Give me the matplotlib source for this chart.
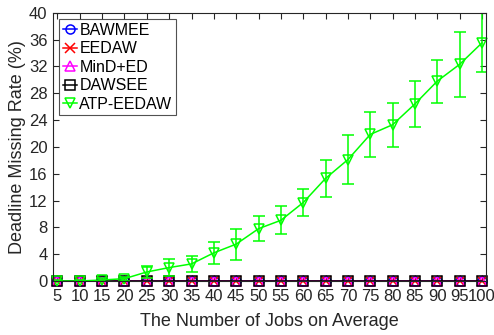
import matplotlib
matplotlib.use("Agg")
import matplotlib.pyplot as plt
from matplotlib.lines import Line2D
import numpy as np

plt.rcParams['font.family'] = ['Liberation Sans', 'DejaVu Sans']

jobs = [5, 10, 15, 20, 25, 30, 35, 40, 45, 50, 55, 60, 65, 70, 75, 80, 85, 90, 95, 100]

bawmee = [0] * 20
eedaw = [0] * 20
mind_ed = [0] * 20
dawsee = [0] * 20

atp_eedaw = [0.0, 0.0, 0.15, 0.35, 1.35, 2.0, 2.55, 4.2, 5.5, 7.8, 9.05, 11.7, 15.3, 18.1,
             21.85, 23.3, 26.4, 29.8, 32.3, 35.5]
atp_err = [0.15, 0.15, 0.25, 0.3, 0.85, 1.25, 1.25, 1.65, 2.3, 1.9, 2.1, 1.95, 2.75, 3.65,
           3.35, 3.3, 3.4, 3.2, 4.8, 4.4]

series = [
    ("BAWMEE", bawmee, None, "#0000ff", "o"),
    ("EEDAW", eedaw, None, "#ff0000", "x"),
    ("MinD+ED", mind_ed, None, "#ff00ff", "^"),
    ("DAWSEE", dawsee, None, "#000000", "s"),
    ("ATP-EEDAW", atp_eedaw, atp_err, "#00ff00", "v"),
]

fig = plt.figure(figsize=(4.94, 3.35), dpi=100)
ax = fig.add_axes([53 / 494, (335 - 281) / 335, (486 - 53) / 494, (281 - 12.7) / 335])

style = dict(markersize=6.5, markerfacecolor='none', markeredgewidth=1.1, linewidth=1.1)
handles = []
for name, vals, err, color, mk in series:
    if err is not None:
        c = ax.errorbar(jobs, vals, yerr=err, color=color, marker=mk, elinewidth=1.1,
                        capsize=4, capthick=1.1, **style)
        c.lines[0].set_clip_on(False)
    else:
        ln, = ax.plot(jobs, vals, color=color, marker=mk, **style)
        ln.set_clip_on(False)
    handles.append(Line2D([], [], color=color, marker=mk, **style))

ax.set_xlim(4, 100.9)
ax.set_ylim(0, 40)
ax.set_xticks(jobs)
ax.set_yticks(np.arange(0, 41, 4))
ax.tick_params(direction='in', top=True, right=True, labelsize=12, colors='#262626',
               length=4, width=0.8)
ax.tick_params(axis='x', pad=6)
ax.tick_params(axis='y', pad=4)
for s in ax.spines.values():
    s.set_color('#262626')
    s.set_linewidth(0.8)

ax.set_xlabel("The Number of Jobs on Average", fontsize=13, color='#262626', labelpad=6)
ax.set_ylabel("Deadline Missing Rate (%)", fontsize=13, color='#262626', labelpad=2)

leg = ax.legend(handles, [s[0] for s in series], loc='upper left',
                bbox_to_anchor=(0.015, 0.975), fontsize=11.5, frameon=True, fancybox=False,
                edgecolor='#262626', handlelength=0.9, handletextpad=0.15, borderpad=0.2,
                labelspacing=0.22, borderaxespad=0)
leg.get_frame().set_linewidth(0.8)

fig.savefig("out.png", dpi=100)
